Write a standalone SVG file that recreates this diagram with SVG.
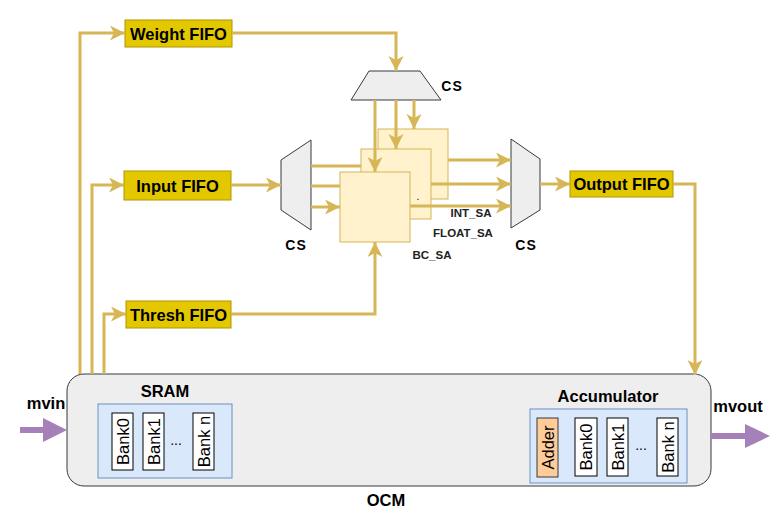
<svg xmlns="http://www.w3.org/2000/svg" width="783" height="521" viewBox="0 0 783 521">
<defs>
<marker id="ah" markerUnits="userSpaceOnUse" markerWidth="16" markerHeight="16" refX="15" refY="7.5" orient="auto">
<path d="M0,0 L15,7.5 L0,15 L4,7.5 Z" fill="#D6B656"/>
</marker>
</defs>
<style>
text{font-family:"Liberation Sans",Arial,sans-serif;fill:#000}
.fifo rect{fill:#E3C800;stroke:#B09500;stroke-width:1}
.fifo text{font-size:16.5px;font-weight:bold;text-anchor:middle;dominant-baseline:central}
.cs polygon{fill:#EEEEEE;stroke:#36393D;stroke-width:1}
.lbl{font-size:14px;font-weight:bold;text-anchor:middle;dominant-baseline:central;letter-spacing:1px}
.sq rect{fill:#FFF2CC;stroke:#D6B656;stroke-width:1}
.sa{font-size:11.5px;font-weight:bold;fill:#222;text-anchor:middle;dominant-baseline:central}
.blue{fill:#DAE8FC;stroke:#6C8EBF;stroke-width:1}
.bank rect{fill:#FFFFFF;stroke:#000;stroke-width:1}
.bank text,.adder text{font-size:16.5px;text-anchor:middle;dominant-baseline:central}
.adder rect{fill:#FFCC99;stroke:#36393D;stroke-width:1}
.title{font-size:16.5px;font-weight:bold;text-anchor:middle;dominant-baseline:central}
.conn path{fill:none;stroke:#D6B656;stroke-width:3}
.conn .a{marker-end:url(#ah)}
.purple{fill:#A680B8}
</style>

<g id="ocm">
<rect x="67" y="374" width="644" height="112" rx="17" ry="17" fill="#EEEEEE" stroke="#36393D" stroke-width="1"/>
<text class="title" x="386" y="500">OCM</text>
</g>

<g id="sram">
<text class="title" x="165" y="391">SRAM</text>
<rect class="blue" x="98" y="404" width="134" height="74"/>
<g class="bank" id="sram-bank0"><rect x="112" y="413" width="21" height="57"/><text transform="translate(122.5,441.5) rotate(-90)">Bank0</text></g>
<g class="bank" id="sram-bank1"><rect x="143" y="413" width="21" height="57"/><text transform="translate(153.5,441.5) rotate(-90)">Bank1</text></g>
<text x="176" y="440" font-size="14" text-anchor="middle" dominant-baseline="central">...</text>
<g class="bank" id="sram-bankn"><rect x="193" y="413" width="21" height="57"/><text transform="translate(203.5,441.5) rotate(-90)">Bank n</text></g>
</g>

<g id="accumulator">
<text class="title" x="608" y="396">Accumulator</text>
<rect class="blue" x="530" y="409" width="157" height="74"/>
<g class="adder" id="adder"><rect x="537" y="418" width="21" height="59"/><text transform="translate(547.5,447.5) rotate(-90)">Adder</text></g>
<g class="bank" id="acc-bank0"><rect x="575" y="418" width="22" height="58"/><text transform="translate(586,447) rotate(-90)">Bank0</text></g>
<g class="bank" id="acc-bank1"><rect x="607" y="418" width="21" height="58"/><text transform="translate(617.5,447) rotate(-90)">Bank1</text></g>
<text x="641" y="445" font-size="14" text-anchor="middle" dominant-baseline="central">...</text>
<g class="bank" id="acc-bankn"><rect x="657" y="418" width="21" height="58"/><text transform="translate(667.5,447) rotate(-90)">Bank n</text></g>
</g>

<g id="mvin">
<text class="title" x="46" y="403">mvin</text>
<polygon class="purple" points="20,427 43,427 43,418 67,430 43,442 43,433 20,433"/>
</g>
<g id="mvout">
<text class="title" x="738" y="406">mvout</text>
<polygon class="purple" points="711,433 745,433 745,424 770,436 745,448 745,439 711,439"/>
</g>

<g id="weight-fifo" class="fifo"><rect x="125" y="20" width="107" height="27"/><text x="178.5" y="33.5">Weight FIFO</text></g>
<g id="input-fifo" class="fifo"><rect x="124" y="171" width="107" height="29"/><text x="177.5" y="185.5">Input FIFO</text></g>
<g id="thresh-fifo" class="fifo"><rect x="126" y="301" width="105" height="27"/><text x="178.5" y="314.5">Thresh FIFO</text></g>
<g id="output-fifo" class="fifo"><rect x="570" y="171" width="103" height="26"/><text x="621.5" y="184">Output FIFO</text></g>

<g id="cs-top" class="cs"><polygon points="369,71 420,71 441,100 351,100"/><text class="lbl" x="452" y="86">CS</text></g>
<g id="cs-left" class="cs"><polygon points="281,160 311,140 311,230 281,210"/><text class="lbl" x="296" y="245">CS</text></g>
<g id="cs-right" class="cs"><polygon points="511,139 540,159 540,210 511,228"/><text class="lbl" x="526" y="245">CS</text></g>

<g id="int-sa" class="sq"><rect x="378" y="129" width="70" height="70"/><text class="sa" x="471" y="213">INT_SA</text></g>
<g id="float-sa" class="sq"><rect x="361" y="149" width="70" height="70"/><text class="sa" x="463" y="233">FLOAT_SA</text></g>
<g id="bc-sa" class="sq"><rect x="340" y="172" width="70" height="70"/><text class="sa" x="432" y="255">BC_SA</text><text x="418" y="200" font-size="10" text-anchor="middle">.</text></g>

<g id="connectors" class="conn">
<path class="a" d="M80,374 V33 H125"/>
<path class="a" d="M92,374 V185 H124"/>
<path class="a" d="M104,374 V314 H126"/>
<path class="a" d="M232,33 H396 V71"/>
<path class="a" d="M231,185 H281"/>
<path class="a" d="M231,314 H375 V242"/>
<path class="a" d="M375,100 V172"/>
<path class="a" d="M396,100 V149"/>
<path class="a" d="M414,100 V129"/>
<path d="M311,166 H361"/>
<path d="M311,186 H340"/>
<path class="a" d="M311,207 H340"/>
<path class="a" d="M448,160 H511"/>
<path class="a" d="M431,184 H511"/>
<path class="a" d="M410,206 H511"/>
<path class="a" d="M540,184 H570"/>
<path class="a" d="M673,184 H695 V375"/>
</g>
</svg>
